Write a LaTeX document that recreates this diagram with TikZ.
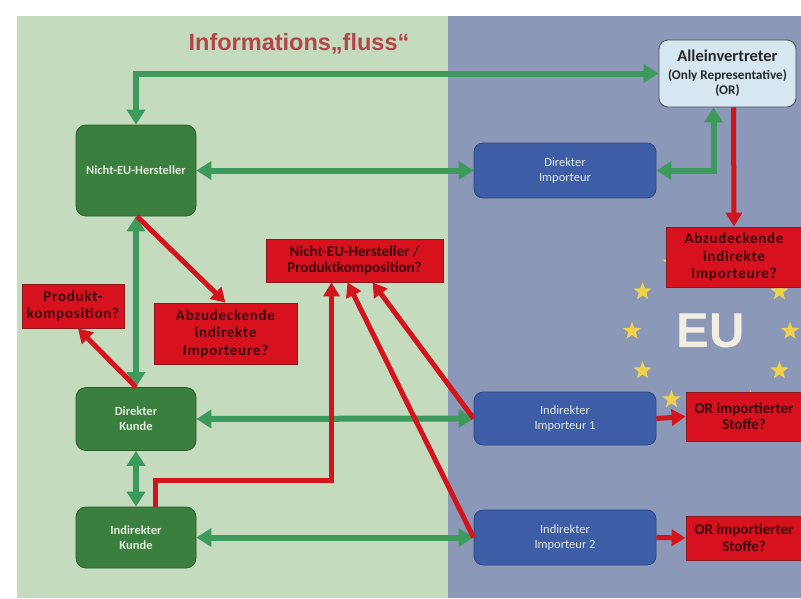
\documentclass[tikz,border=0pt]{standalone}
\usepackage{fontspec}
\setmainfont{Carlito}
\newfontfamily\titlefont{Liberation Sans}
\newfontfamily\rfont{Carlito}[BoldFont={Carlito Bold}]
\newfontfamily\rsfont{Carlito}[LetterSpace=5]
\usetikzlibrary{arrows.meta,shapes.geometric}
\definecolor{bggreen}{HTML}{C5DBBE}
\definecolor{bgblue}{HTML}{8C98B8}
\definecolor{boxgreen}{HTML}{3B7F3F}
\definecolor{boxgreenb}{HTML}{2A5A2C}
\definecolor{boxblue}{HTML}{3D5EA6}
\definecolor{boxblueb}{HTML}{2C4784}
\definecolor{lightbox}{HTML}{D6E7F1}
\definecolor{redbox}{HTML}{D7111E}
\definecolor{redboxb}{HTML}{8A1A20}
\definecolor{redtext}{HTML}{3A0A0E}
\definecolor{arrgreen}{HTML}{3C9B5C}
\definecolor{arrred}{HTML}{D3141C}
\definecolor{titlered}{HTML}{B5454A}
\definecolor{staryellow}{HTML}{F0D24A}
\definecolor{eutext}{HTML}{F2EFE2}
\definecolor{lighttext}{HTML}{E2EADF}
\tikzset{
  gbox/.style={draw=boxgreenb, line width=0.8pt, fill=boxgreen, rounded corners=10pt,
    minimum width=120pt, text=lighttext, font=\bfseries\fontsize{12.5}{15}\selectfont, align=center},
  bbox/.style={draw=boxblueb, line width=0.8pt, fill=boxblue, rounded corners=9pt,
    minimum width=182pt, minimum height=54pt, text=lighttext, font=\fontsize{12.5}{15}\selectfont, align=center},
  rbox/.style={draw=redboxb, line width=0.8pt, fill=redbox, text=redtext,
    font=\rfont\bfseries\fontsize{15}{16.5}\selectfont, align=center, inner sep=1pt},
  rsbox/.style={rbox, font=\rsfont\bfseries\fontsize{15}{17.5}\selectfont},
  garr/.style={draw=arrgreen, line width=6pt, {Triangle[width=18pt,length=15pt]}-{Triangle[width=18pt,length=15pt]}},
  rarr/.style={draw=arrred, line width=5pt, -{Triangle[width=16pt,length=14pt]}},
  eustar/.style={star, star points=5, star point ratio=2.4, fill=staryellow, minimum size=19pt, inner sep=0pt},
}
\begin{document}
\begin{tikzpicture}[x=1pt,y=-1pt]
\useasboundingbox (0,0) rectangle (801,598);
\fill[white] (0,0) rectangle (801,598);
\fill[bggreen] (17,16) rectangle (448,598);
\fill[bgblue] (448,16) rectangle (801,598);
% stars
\foreach \a in {0,30,...,330}
  \node[eustar] (st\a) at ({711+79*cos(\a)},{331-79*sin(\a)}) {};
\node[text=eutext, font=\titlefont\bfseries\fontsize{49}{49}\selectfont] (eu) at (711,331) {EU};
% title
\node[text=titlered, font=\titlefont\bfseries\fontsize{23.5}{23.5}\selectfont] (title) at (299,44) {Informations„fluss“};
% green nodes
\node[gbox, minimum height=91pt] (hst) at (136,170.5) {Nicht-EU-Hersteller};
\node[gbox, minimum height=63pt] (dk) at (136,419) {Direkter\\Kunde};
\node[gbox, minimum height=61pt] (ik) at (136,537.5) {Indirekter\\Kunde};
% blue nodes
\node[bbox, minimum height=55pt] (di) at (565,170.5) {Direkter\\Importeur};
\node[bbox, minimum height=53pt] (ii1) at (565,418.5) {Indirekter\\Importeur 1};
\node[bbox, minimum height=55pt] (ii2) at (565,537.5) {Indirekter\\Importeur 2};
% OR node
\node[draw=black!70, line width=0.8pt, fill=lightbox, rounded corners=9pt, minimum width=137pt, minimum height=67pt,
  align=center, text=black!85, font=\bfseries\fontsize{13.2}{15.5}\selectfont, inner sep=1pt] (or) at (727.5,73.5)
  {{\fontsize{16.5}{18}\selectfont Alleinvertreter}\\[2pt](Only Representative)\\(OR)};
% red boxes
\node[rbox, minimum width=177pt, minimum height=43pt] (nep) at (354.5,260.5) {Nicht-EU-Hersteller /\\Produktkomposition?};
\node[rsbox, minimum width=102pt, minimum height=44pt] (pk) at (73,306) {Produkt-\\komposition?};
\node[rsbox, minimum width=143pt, minimum height=61pt] (abl) at (225.5,333.5) {Abzudeckende\\indirekte\\Importeure?};
\node[rsbox, minimum width=136pt, minimum height=60pt] (abr) at (734,257) {Abzudeckende\\indirekte\\Importeure?};
\node[rbox, minimum width=116pt, minimum height=49pt] (os1) at (744,416.5) {OR importierter\\Stoffe?};
\node[rbox, minimum width=116pt, minimum height=44pt] (os2) at (744,538) {OR importierter\\Stoffe?};
% green connectors
\draw[garr] (hst.north) |- (or.west);
\draw[garr] (hst.east) -- (di.west);
\draw[garr] (di.east) -| ([xshift=-14pt]or.south);
\draw[garr] (hst.south) -- (dk.north);
\draw[garr] (dk.east) -- (ii1.west);
\draw[garr] (dk.south) -- (ik.north);
\draw[garr] (ik.east) -- (ii2.west);
% red connectors
\draw[rarr] ([xshift=1pt]hst.south) -- (abl.north);
\draw[rarr] (dk.north) -- ([xshift=5pt]pk.south);
\draw[rarr] ([xshift=19pt]ik.north) -- ++(0,-26) -| ([xshift=-23pt]nep.south);
\draw[rarr] (ii1.west) -- ([xshift=18pt]nep.south);
\draw[rarr] (ii2.west) -- ([xshift=-7pt]nep.south);
\draw[rarr] ([xshift=6pt]or.south) -- (abr.north);
\draw[rarr] (ii1.east) -- (os1.west);
\draw[rarr] (ii2.east) -- (os2.west);
\end{tikzpicture}
\end{document}
